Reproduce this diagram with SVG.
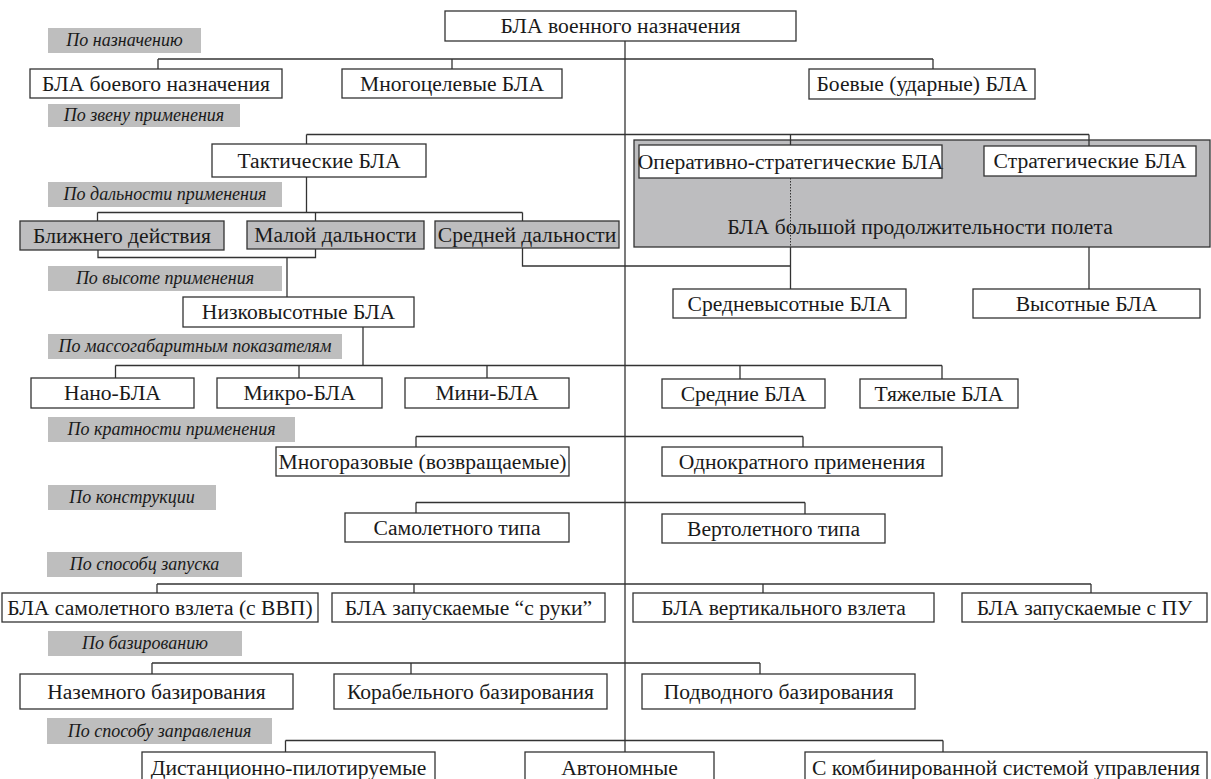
<svg xmlns="http://www.w3.org/2000/svg" width="1211" height="779" viewBox="0 0 1211 779" font-family="'Liberation Serif', 'DejaVu Serif', serif">
<style>
.bg{fill:#ffffff}
.box rect{fill:#ffffff;stroke:#333333;stroke-width:1.3}
.gbox rect{fill:#bdbdbf;stroke:#333333;stroke-width:1.3}
.box text,.gbox text{font-family:'Liberation Serif','DejaVu Serif',serif;font-size:21.6px;fill:#1a1a1a;text-anchor:middle}
.lab rect{fill:#bebebe;stroke:none}
.lab text{font-family:'Liberation Serif','DejaVu Serif',serif;font-style:italic;font-size:18px;fill:#1a1a1a;text-anchor:middle}
.conn line,.conn polyline{stroke:#333333;stroke-width:1.3;fill:none}
.conn .dot{stroke-dasharray:1.5 1.5;stroke-width:1}
</style>
<rect class="bg" x="0" y="0" width="1211" height="779"/>

<!-- big gray group box -->
<g id="long-endurance" class="gbox">
<rect x="634" y="140" width="576" height="107"/>
<text x="920" y="234">БЛА большой продолжительности полета</text>
</g>

<!-- category labels -->
<g id="lab1" class="lab"><rect x="48" y="28" width="153" height="25"/><text x="124.5" y="46">По назначению</text></g>
<g id="lab2" class="lab"><rect x="48" y="104" width="192" height="23"/><text x="144" y="121">По звену применения</text></g>
<g id="lab3" class="lab"><rect x="48" y="182" width="234" height="25"/><text x="165" y="200">По дальности применения</text></g>
<g id="lab4" class="lab"><rect x="48" y="266" width="234" height="25"/><text x="165" y="284">По высоте применения</text></g>
<g id="lab5" class="lab"><rect x="48" y="334" width="294" height="25"/><text x="195" y="352">По массогабаритным показателям</text></g>
<g id="lab6" class="lab"><rect x="48" y="417" width="247" height="25"/><text x="171.5" y="435">По кратности применения</text></g>
<g id="lab7" class="lab"><rect x="48" y="485" width="168" height="25"/><text x="132" y="503">По конструкции</text></g>
<g id="lab8" class="lab"><rect x="47" y="552" width="195" height="25"/><text x="144.5" y="570">По способц запуска</text></g>
<g id="lab9" class="lab"><rect x="48" y="631" width="194" height="25"/><text x="145" y="649">По базированию</text></g>
<g id="lab10" class="lab"><rect x="47" y="718" width="225" height="26"/><text x="159.5" y="737">По способу заправления</text></g>

<!-- connectors -->
<g id="connectors" class="conn">
<line x1="625" y1="41" x2="625" y2="752"/>
<line x1="158" y1="59" x2="933" y2="59"/>
<line x1="158" y1="59" x2="158" y2="69"/>
<line x1="452" y1="59" x2="452" y2="69"/>
<line x1="933" y1="59" x2="933" y2="69"/>
<line x1="306.5" y1="134.5" x2="1089" y2="134.5"/>
<line x1="306.5" y1="134.5" x2="306.5" y2="144"/>
<line x1="790.5" y1="134.5" x2="790.5" y2="145"/>
<line x1="1089" y1="134.5" x2="1089" y2="146"/>
<line x1="306.5" y1="177" x2="306.5" y2="212.5"/>
<line x1="97.5" y1="212.5" x2="522.5" y2="212.5"/>
<line x1="97.5" y1="212.5" x2="97.5" y2="221"/>
<line x1="315.5" y1="212.5" x2="315.5" y2="221"/>
<line x1="522.5" y1="212.5" x2="522.5" y2="221"/>
<polyline points="98,250 98,257.5 315.5,257.5 315.5,249"/>
<line x1="287" y1="257.5" x2="287" y2="297"/>
<polyline points="522.5,248 522.5,266 790.5,266"/>
<line class="dot" x1="790.5" y1="178" x2="790.5" y2="247"/>
<line x1="790.5" y1="247" x2="790.5" y2="289"/>
<line x1="1089" y1="247" x2="1089" y2="289"/>
<line x1="363" y1="327" x2="363" y2="365.5"/>
<line x1="115.5" y1="365.5" x2="942" y2="365.5"/>
<line x1="115.5" y1="365.5" x2="115.5" y2="378"/>
<line x1="299" y1="365.5" x2="299" y2="378"/>
<line x1="487" y1="365.5" x2="487" y2="378"/>
<line x1="740" y1="365.5" x2="740" y2="379"/>
<line x1="942" y1="365.5" x2="942" y2="379"/>
<line x1="416" y1="436.5" x2="803" y2="436.5"/>
<line x1="416" y1="436.5" x2="416" y2="447"/>
<line x1="803" y1="436.5" x2="803" y2="447"/>
<line x1="416" y1="502.5" x2="805" y2="502.5"/>
<line x1="416" y1="502.5" x2="416" y2="513"/>
<line x1="805" y1="502.5" x2="805" y2="514"/>
<line x1="157" y1="584" x2="1091" y2="584"/>
<line x1="157" y1="584" x2="157" y2="593"/>
<line x1="414" y1="584" x2="414" y2="593"/>
<line x1="763" y1="584" x2="763" y2="593"/>
<line x1="1091" y1="584" x2="1091" y2="593"/>
<line x1="152" y1="663" x2="760" y2="663"/>
<line x1="152" y1="663" x2="152" y2="674"/>
<line x1="411" y1="663" x2="411" y2="674"/>
<line x1="760" y1="663" x2="760" y2="674"/>
<line x1="285.5" y1="740.5" x2="943" y2="740.5"/>
<line x1="285.5" y1="740.5" x2="285.5" y2="752"/>
<line x1="943" y1="740.5" x2="943" y2="752"/>
</g>

<!-- nodes -->
<g id="root" class="box"><rect x="445" y="11" width="351" height="30"/><text x="620.5" y="33">БЛА военного назначения</text></g>
<g id="combat-purpose" class="box"><rect x="30" y="69" width="252" height="29"/><text x="156" y="90.5">БЛА боевого назначения</text></g>
<g id="multirole" class="box"><rect x="342" y="69" width="220" height="29"/><text x="452" y="90.5">Многоцелевые БЛА</text></g>
<g id="strike" class="box"><rect x="809" y="69" width="226" height="30"/><text x="922" y="91">Боевые (ударные) БЛА</text></g>
<g id="tactical" class="box"><rect x="212" y="144" width="214" height="33"/><text x="319" y="168">Тактические БЛА</text></g>
<g id="op-strategic" class="box"><rect x="639" y="145" width="303" height="33"/><text x="790.5" y="169">Оперативно-стратегические БЛА</text></g>
<g id="strategic" class="box"><rect x="984" y="146" width="212" height="30"/><text x="1090" y="168">Стратегические БЛА</text></g>
<g id="close-range" class="gbox"><rect x="20" y="221" width="204" height="29"/><text x="122" y="242.5">Ближнего действия</text></g>
<g id="short-range" class="gbox"><rect x="247" y="221" width="177" height="28"/><text x="335.5" y="242">Малой дальности</text></g>
<g id="medium-range" class="gbox"><rect x="435" y="221" width="184" height="27"/><text x="527" y="241.5">Средней дальности</text></g>
<g id="low-alt" class="box"><rect x="183" y="297" width="231" height="30"/><text x="298.5" y="319">Низковысотные БЛА</text></g>
<g id="mid-alt" class="box"><rect x="673" y="289" width="233" height="29"/><text x="789.5" y="310.5">Средневысотные БЛА</text></g>
<g id="high-alt" class="box"><rect x="973" y="289" width="227" height="29"/><text x="1086.5" y="310.5">Высотные БЛА</text></g>
<g id="nano" class="box"><rect x="31" y="378" width="163" height="30"/><text x="112.5" y="400">Нано-БЛА</text></g>
<g id="micro" class="box"><rect x="217" y="378" width="165" height="30"/><text x="299.5" y="400">Микро-БЛА</text></g>
<g id="mini" class="box"><rect x="405" y="378" width="164" height="30"/><text x="487" y="400">Мини-БЛА</text></g>
<g id="medium" class="box"><rect x="662" y="379" width="163" height="29"/><text x="743.5" y="400.5">Средние БЛА</text></g>
<g id="heavy" class="box"><rect x="860" y="379" width="158" height="29"/><text x="939" y="400.5">Тяжелые БЛА</text></g>
<g id="reusable" class="box"><rect x="276" y="447" width="293" height="29"/><text x="422.5" y="468.5">Многоразовые (возвращаемые)</text></g>
<g id="single-use" class="box"><rect x="662" y="447" width="280" height="29"/><text x="802" y="468.5">Однократного применения</text></g>
<g id="airplane" class="box"><rect x="345" y="513" width="224" height="29"/><text x="457" y="534.5">Самолетного типа</text></g>
<g id="helicopter" class="box"><rect x="662" y="514" width="223" height="29"/><text x="773.5" y="535.5">Вертолетного типа</text></g>
<g id="runway" class="box"><rect x="2" y="593" width="316" height="29"/><text x="160" y="614.5">БЛА самолетного взлета (с ВВП)</text></g>
<g id="hand" class="box"><rect x="332" y="593" width="273" height="29"/><text x="468.5" y="614.5">БЛА запускаемые “с руки”</text></g>
<g id="vtol" class="box"><rect x="633" y="593" width="301" height="29"/><text x="783.5" y="614.5">БЛА вертикального взлета</text></g>
<g id="launcher" class="box"><rect x="962" y="593" width="245" height="29"/><text x="1084.5" y="614.5">БЛА запускаемые с ПУ</text></g>
<g id="ground" class="box"><rect x="20" y="674" width="273" height="35"/><text x="156.5" y="698.5">Наземного базирования</text></g>
<g id="ship" class="box"><rect x="334" y="674" width="273" height="35"/><text x="470.5" y="698.5">Корабельного базирования</text></g>
<g id="submarine" class="box"><rect x="642" y="674" width="273" height="35"/><text x="778.5" y="698.5">Подводного базирования</text></g>
<g id="remote" class="box"><rect x="142" y="752" width="293" height="32"/><text x="288.5" y="775">Дистанционно-пилотируемые</text></g>
<g id="autonomous" class="box"><rect x="525" y="752" width="189" height="32"/><text x="619.5" y="775">Автономные</text></g>
<g id="combined" class="box"><rect x="805" y="752" width="402" height="32"/><text x="1006" y="775">С комбинированной системой управления</text></g>
</svg>
